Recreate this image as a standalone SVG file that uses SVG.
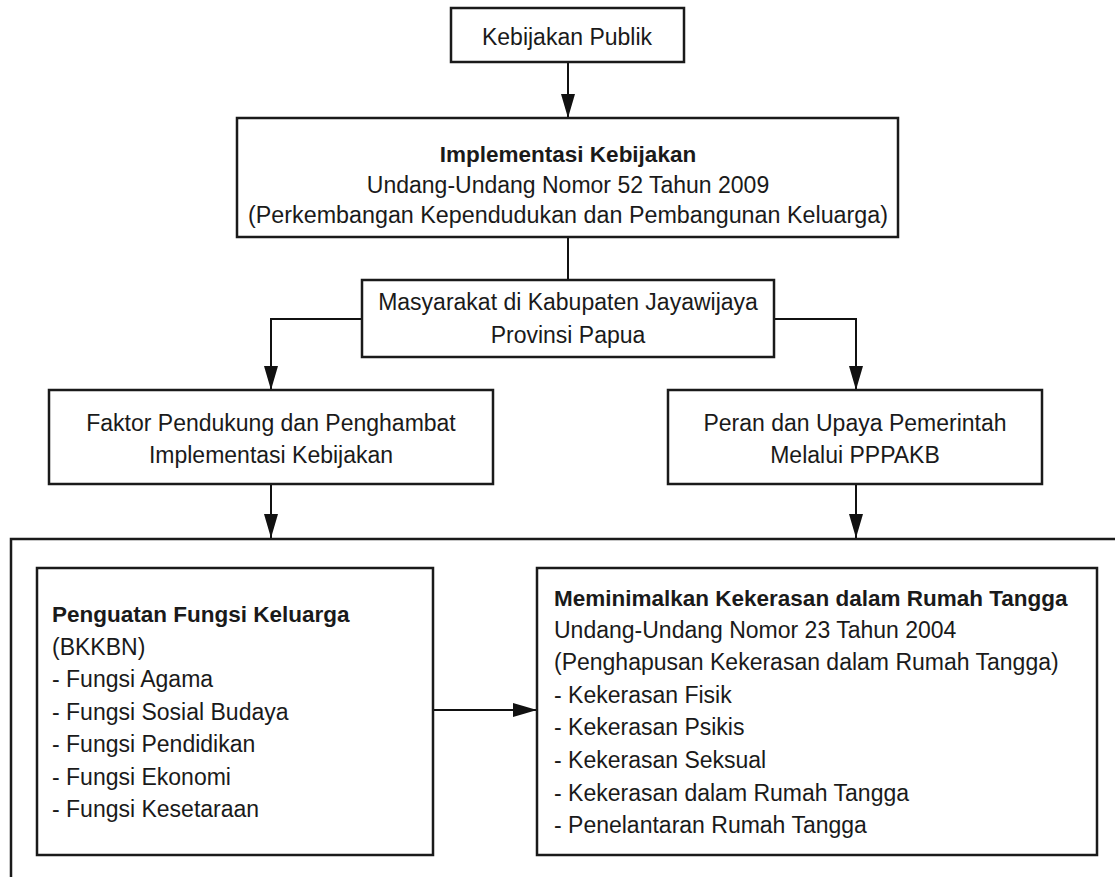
<svg xmlns="http://www.w3.org/2000/svg" width="1115" height="877" viewBox="0 0 1115 877">
<defs>
<marker id="ah" markerUnits="userSpaceOnUse" markerWidth="24" markerHeight="14" refX="24" refY="7" orient="auto">
<path d="M0,0 L24,7 L0,14 Z" fill="#111"/>
</marker>
<style>
.box{fill:#fff;stroke:#1a1a1a;stroke-width:2.5}
.t{font-family:"Liberation Sans",Arial,sans-serif;font-size:23px;fill:#1a1a1a}
.c{text-anchor:middle}
.b{font-weight:bold;font-size:22.5px}
.conn{fill:none;stroke:#111;stroke-width:2}
.arr{marker-end:url(#ah)}
</style>
</defs>
<rect width="1115" height="877" fill="#fff"/>
<g id="connectors">
<path class="conn arr" d="M568,62 V118"/>
<path class="conn" d="M568,237 V280"/>
<path class="conn arr" d="M362,319 H271 V390"/>
<path class="conn arr" d="M774,319 H856 V390"/>
<path class="conn arr" d="M271,484 V538"/>
<path class="conn arr" d="M856,484 V538"/>
<path class="conn arr" d="M433,710 H537"/>
</g>
<g id="container">
<path d="M1115,539 H11 V877" fill="none" stroke="#1a1a1a" stroke-width="2.5"/>
</g>
<g id="kebijakan-publik">
<rect class="box" x="451" y="8" width="233" height="54"/>
<text class="t c" x="567" y="45">Kebijakan Publik</text>
</g>
<g id="implementasi">
<rect class="box" x="237" y="118" width="661" height="119"/>
<text class="t c b" x="568" y="162">Implementasi Kebijakan</text>
<text class="t c" x="568" y="193">Undang-Undang Nomor 52 Tahun 2009</text>
<text class="t c" x="568" y="223" textLength="640" lengthAdjust="spacingAndGlyphs">(Perkembangan Kependudukan dan Pembangunan Keluarga)</text>
</g>
<g id="masyarakat">
<rect class="box" x="362" y="280" width="412" height="77"/>
<text class="t c" x="568" y="310">Masyarakat di Kabupaten Jayawijaya</text>
<text class="t c" x="568" y="343">Provinsi Papua</text>
</g>
<g id="faktor">
<rect class="box" x="49" y="390" width="444" height="94"/>
<text class="t c" x="271" y="431">Faktor Pendukung dan Penghambat</text>
<text class="t c" x="271" y="463">Implementasi Kebijakan</text>
</g>
<g id="peran">
<rect class="box" x="668" y="390" width="374" height="94"/>
<text class="t c" x="855" y="431">Peran dan Upaya Pemerintah</text>
<text class="t c" x="855" y="463">Melalui PPPAKB</text>
</g>
<g id="penguatan">
<rect class="box" x="37" y="568" width="396" height="287"/>
<text class="t b" x="52" y="622">Penguatan Fungsi Keluarga</text>
<text class="t" x="52" y="655">(BKKBN)</text>
<text class="t" x="52" y="687">- Fungsi Agama</text>
<text class="t" x="52" y="720">- Fungsi Sosial Budaya</text>
<text class="t" x="52" y="752">- Fungsi Pendidikan</text>
<text class="t" x="52" y="785">- Fungsi Ekonomi</text>
<text class="t" x="52" y="817">- Fungsi Kesetaraan</text>
</g>
<g id="meminimalkan">
<rect class="box" x="537" y="568" width="560" height="287"/>
<text class="t b" x="554" y="606">Meminimalkan Kekerasan dalam Rumah Tangga</text>
<text class="t" x="554" y="638">Undang-Undang Nomor 23 Tahun 2004</text>
<text class="t" x="554" y="670">(Penghapusan Kekerasan dalam Rumah Tangga)</text>
<text class="t" x="554" y="703">- Kekerasan Fisik</text>
<text class="t" x="554" y="735">- Kekerasan Psikis</text>
<text class="t" x="554" y="768">- Kekerasan Seksual</text>
<text class="t" x="554" y="801">- Kekerasan dalam Rumah Tangga</text>
<text class="t" x="554" y="833">- Penelantaran Rumah Tangga</text>
</g>
</svg>
